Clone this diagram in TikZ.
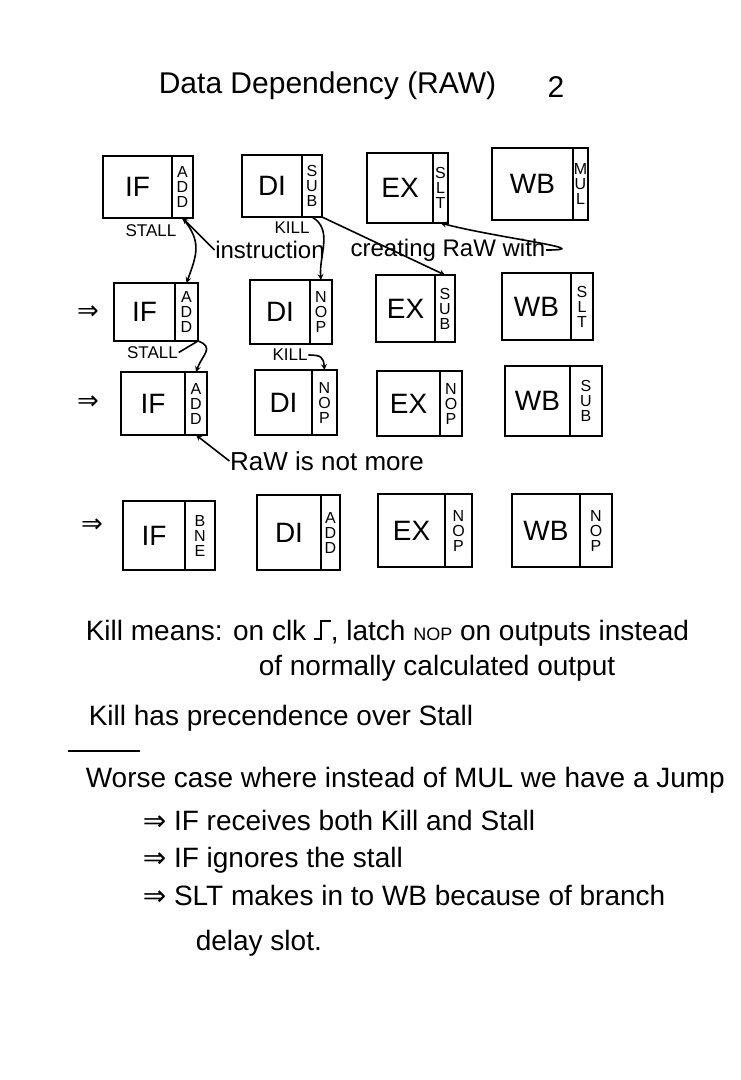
\documentclass[tikz,border=0pt]{standalone}
\usepackage{fontspec}
\setmainfont{Liberation Sans}
\newfontfamily\symfont{DejaVu Sans}
\usepackage{tikz}
\usetikzlibrary{arrows,positioning}
\newcommand{\clkedge}{\rule{.22em}{.06em}\rule{.06em}{.72em}\rule[.66em]{.32em}{.06em}}

\begin{document}
\begin{tikzpicture}[x=1pt, y=1pt, >=stealth, line width=1.6pt]
  \tikzstyle{stage} = [rectangle, draw, line width=2pt, inner sep=0pt, outer sep=0pt, font=\fontsize{28}{30}\selectfont]
  \tikzstyle{slot} = [rectangle, draw, line width=2pt, inner sep=0pt, outer sep=0pt, minimum width=20pt, align=center, font=\fontsize{16}{15}\selectfont]
  \tikzstyle{tag} = [inner sep=0pt, font=\fontsize{17}{19}\selectfont]
  \tikzstyle{hand} = [inner sep=0pt, font=\fontsize{24}{26}\selectfont]
  \tikzstyle{goes} = [inner sep=0pt, font=\symfont\fontsize{26}{28}\selectfont]
  \tikzstyle{line} = [anchor=base west, inner sep=0pt, font=\fontsize{28}{32}\selectfont]
  \tikzstyle{link} = [->, line width=1.6pt]

  \useasboundingbox (0,0) rectangle (740,-1080);

  % title
  \node[anchor=base, font=\fontsize{30}{34}\selectfont] (title) at (327.5,-93) {Data Dependency (RAW)};
  \node[anchor=base, font=\fontsize{30}{34}\selectfont] (page) at (556,-97) {2};

  % first cycle
  \node[stage, minimum width=69pt, minimum height=62pt] (if1) at (137.5,-187) {IF};
  \node[slot, minimum height=62pt, minimum width=21pt, right=0pt of if1] (if1s) {A\\D\\D};
  \node[stage, minimum width=60pt, minimum height=62pt] (di1) at (272,-186) {DI};
  \node[slot, minimum height=62pt, right=0pt of di1] (di1s) {S\\U\\B};
  \node[stage, minimum width=66pt, minimum height=70pt] (ex1) at (400,-188) {EX};
  \node[slot, minimum height=70pt, minimum width=15pt, right=0pt of ex1] (ex1s) {S\\L\\T};
  \node[stage, minimum width=81pt, minimum height=72pt] (wb1) at (532.5,-184) {WB};
  \node[slot, minimum height=72pt, minimum width=15pt, right=0pt of wb1] (wb1s) {M\\U\\L};

  \node[tag] (stall1) at (151,-231) {STALL};
  \node[tag] (kill1) at (292,-228) {KILL};
  \node[hand] (instr) at (270,-250) {instruction};
  \node[hand] (creat) at (448,-250) {creating RaW with};

  % second cycle
  \node[goes] (go2) at (88,-312.5) {⇒};
  \node[stage, minimum width=61pt, minimum height=58pt] (if2) at (144.5,-312) {IF};
  \node[slot, minimum height=58pt, minimum width=23pt, right=0pt of if2] (if2s) {A\\D\\D};
  \node[stage, minimum width=60pt, minimum height=64pt] (di2) at (280,-312) {DI};
  \node[slot, minimum height=64pt, minimum width=22pt, right=0pt of di2] (di2s) {N\\O\\P};
  \node[stage, minimum width=59pt, minimum height=67pt] (ex2) at (405.5,-308.5) {EX};
  \node[slot, minimum height=67pt, right=0pt of ex2] (ex2s) {S\\U\\B};
  \node[stage, minimum width=69pt, minimum height=67pt] (wb2) at (536.5,-306.5) {WB};
  \node[slot, minimum height=67pt, minimum width=22pt, right=0pt of wb2] (wb2s) {S\\L\\T};

  \node[tag] (stall2) at (152.5,-352.5) {STALL};
  \node[tag] (kill2) at (290,-355) {KILL};

  % third cycle
  \node[goes] (go3) at (88,-402.5) {⇒};
  \node[stage, minimum width=64pt, minimum height=63pt] (if3) at (153,-403.5) {IF};
  \node[slot, minimum height=63pt, minimum width=22pt, right=0pt of if3] (if3s) {A\\D\\D};
  \node[stage, minimum width=57pt, minimum height=65pt] (di3) at (283.5,-402.5) {DI};
  \node[slot, minimum height=65pt, minimum width=25pt, right=0pt of di3] (di3s) {N\\O\\P};
  \node[stage, minimum width=63pt, minimum height=65pt] (ex3) at (408.5,-403.5) {EX};
  \node[slot, minimum height=65pt, minimum width=22pt, right=0pt of ex3] (ex3s) {N\\O\\P};
  \node[stage, minimum width=65pt, minimum height=70pt] (wb3) at (537.5,-401) {WB};
  \node[slot, minimum height=70pt, minimum width=32pt, right=0pt of wb3] (wb3s) {S\\U\\B};

  \node[hand, font=\fontsize{26}{28}\selectfont] (raw) at (327,-461) {RaW is not more};

  % fourth cycle
  \node[goes] (go4) at (92,-526) {⇒};
  \node[stage, minimum width=62pt, minimum height=69pt] (if4) at (154,-535.5) {IF};
  \node[slot, minimum height=69pt, minimum width=30pt, right=0pt of if4] (if4s) {B\\N\\E};
  \node[stage, minimum width=64pt, minimum height=75pt] (di4) at (289,-532.5) {DI};
  \node[slot, minimum height=75pt, minimum width=19pt, right=0pt of di4] (di4s) {A\\D\\D};
  \node[stage, minimum width=67pt, minimum height=73pt] (ex4) at (411.5,-530.5) {EX};
  \node[slot, minimum height=73pt, minimum width=27pt, right=0pt of ex4] (ex4s) {N\\O\\P};
  \node[stage, minimum width=68pt, minimum height=73pt] (wb4) at (546,-530.5) {WB};
  \node[slot, minimum height=73pt, minimum width=32pt, right=0pt of wb4] (wb4s) {N\\O\\P};

  % hazard arrows
  \draw[link] (instr.west) -- (if1s.south);
  \draw[link] (if1s.south) to[out=-50, in=70, looseness=1.2] (if2s.north);
  \draw[link] (di1s.south) to[out=-30, in=95] (di2s.north);
  \draw[link] (di1s.south east) -- (ex2s.north);
  \draw[link] (creat.east) to[out=0, in=-15, looseness=1.3] (ex1s.south);
  \draw[link] (stall2.east) -- (if2s.south east) to[out=-20, in=70, looseness=1.5] (if3s.north);
  \draw[link] (kill2.east) to[out=0, in=95, looseness=1.5] (di3s.north);
  \draw[link] (raw.west) -- (if3s.south);

  % notes
  \node[line] (note1) at (85,-640) {Kill means: on clk \clkedge, latch {\fontsize{18}{20}\selectfont NOP} on outputs instead};
  \node[line] (note2) at (258,-675) {of normally calculated output};
  \node[line] (note3) at (88,-725) {Kill has precendence over Stall};
  \draw[line width=1.6pt] (68,-751) -- (140,-751);
  \node[line] (note4) at (85,-787) {Worse case where instead of MUL we have a Jump};
  \node[line] (note5) at (142,-830) {{\symfont ⇒} IF receives both Kill and Stall};
  \node[line] (note6) at (142,-867) {{\symfont ⇒} IF ignores the stall};
  \node[line] (note7) at (142,-905) {{\symfont ⇒} SLT makes in to WB because of branch};
  \node[line] (note8) at (195,-950) {delay slot.};
\end{tikzpicture}
\end{document}
